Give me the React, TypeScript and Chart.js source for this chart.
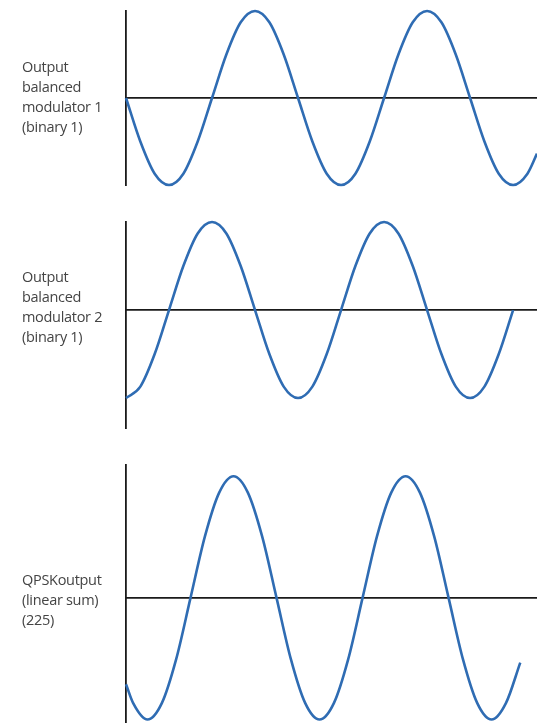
import React, { useEffect, useRef } from "react";
import { Chart, registerables } from "chart.js";

Chart.register(...registerables);

// Phase (degrees) and amplitude values
const phase1 = [0, 30, 60, 90, 120, 150, 180, 210, 240, 270, 300, 330, 360, 390, 420, 450, 480, 510, 540, 570, 600, 630, 660, 690, 720, 750, 780, 810, 840, 860];
const modulator1 = [0, -0.5, -0.87, -1, -0.87, -0.5, 0, 0.5, 0.87, 1, 0.87, 0.5, 0, -0.5, -0.87, -1, -0.87, -0.5, 0, 0.5, 0.87, 1, 0.87, 0.5, 0, -0.5, -0.87, -1, -0.87, -0.64];

const phase2 = [0, 30, 60, 90, 120, 150, 180, 210, 240, 270, 300, 330, 360, 390, 420, 450, 480, 510, 540, 570, 600, 630, 660, 690, 720, 750, 780, 810];
const modulator2 = [-1, -0.87, -0.5, 0, 0.5, 0.87, 1, 0.87, 0.5, 0, -0.5, -0.87, -1, -0.87, -0.5, 0, 0.5, 0.87, 1, 0.87, 0.5, 0, -0.5, -0.87, -1, -0.87, -0.5, 0];

const phase3 = [0, 15, 45, 75, 105, 135, 165, 195, 225, 255, 285, 315, 345, 375, 405, 435, 465, 495, 525, 555, 585, 615, 645, 675, 705, 735, 765, 795, 825];
const qpskSum = [-1, -1.22, -1.41, -1.22, -0.71, 0, 0.71, 1.22, 1.41, 1.22, 0.71, 0, -0.71, -1.22, -1.41, -1.22, -0.71, 0, 0.71, 1.22, 1.41, 1.22, 0.71, 0, -0.71, -1.22, -1.41, -1.22, -0.75];

const label1 = ["Output", "balanced", "modulator 1", "(binary 1)"];
const label2 = ["Output", "balanced", "modulator 2", "(binary 1)"];
const label3 = ["QPSKoutput", "(linear sum)", "(225)"];

const WAVE = "#2f6cb3";
const AXIS = "#1a1a1a";

type PanelProps = {
  xs: number[];
  ys: number[];
  yMin: number;
  yMax: number;
  top: number;
  height: number;
  padTop: number;
  padBottom: number;
};

function Panel({ xs, ys, yMin, yMax, top, height, padTop, padBottom }: PanelProps) {
  const ref = useRef<HTMLCanvasElement | null>(null);
  useEffect(() => {
    if (!ref.current) return;
    const chart = new Chart(ref.current, {
      type: "line",
      data: {
        datasets: [
          {
            data: xs.map((x, i) => ({ x, y: ys[i] })),
            borderColor: WAVE,
            borderWidth: 2.6,
            pointRadius: 0,
            cubicInterpolationMode: "monotone",
            fill: false,
            clip: false as any,
          },
        ],
      },
      options: {
        animation: false,
        responsive: false,
        maintainAspectRatio: false,
        layout: { padding: { left: 126, right: 0, top: padTop, bottom: padBottom } },
        plugins: { legend: { display: false }, tooltip: { enabled: false } },
        scales: {
          x: {
            type: "linear",
            min: 0,
            max: 860,
            position: { y: 0 } as any,
            grid: { display: false, drawTicks: false, tickLength: 0 },
            border: { display: true, color: AXIS, width: 1.8 },
            ticks: { display: false },
          },
          y: {
            type: "linear",
            min: yMin,
            max: yMax,
            position: "left",
            grid: { display: false, drawTicks: false, tickLength: 0 },
            border: { display: true, color: AXIS, width: 1.8 },
            ticks: { display: false },
          },
        },
      },
    });
    return () => chart.destroy();
  }, []);
  return (
    <canvas
      ref={ref}
      width={537}
      height={height}
      style={{ position: "absolute", left: 0, top, width: 537, height }}
    />
  );
}

function Label({ lines, top }: { lines: string[]; top: number }) {
  return (
    <div
      style={{
        position: "absolute",
        left: 22,
        top,
        fontFamily: "'Open Sans', sans-serif",
        fontSize: 14.5,
        lineHeight: "20px",
        color: "#444",
        letterSpacing: -0.3,
        whiteSpace: "nowrap",
      }}
    >
      {lines.map((l, i) => (
        <div key={i}>{l}</div>
      ))}
    </div>
  );
}

export default function App() {
  return (
    <div style={{ position: "absolute", left: 0, top: 0, width: 537, height: 723, background: "#fff", overflow: "hidden" }}>
      <Panel xs={phase1} ys={modulator1} yMin={-1} yMax={1} top={0} height={200} padTop={11} padBottom={15} />
      <Panel xs={phase2} ys={modulator2} yMin={-1.34} yMax={1.0} top={200} height={240} padTop={22} padBottom={12} />
      <Panel xs={phase3} ys={qpskSum} yMin={-1.45} yMax={1.54} top={440} height={283} padTop={25} padBottom={0} />
      <Label lines={label1} top={57} />
      <Label lines={label2} top={267} />
      <Label lines={label3} top={570} />
    </div>
  );
}
